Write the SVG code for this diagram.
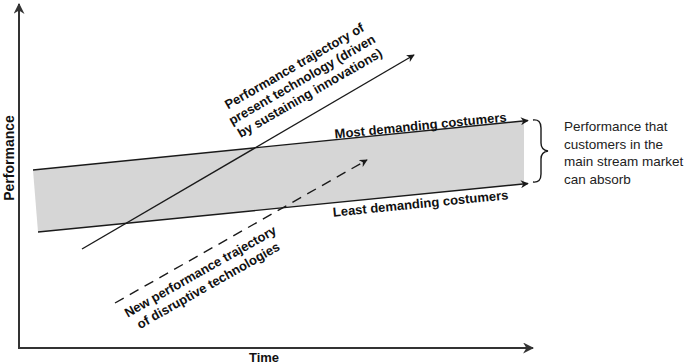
<svg xmlns="http://www.w3.org/2000/svg" width="685" height="364" viewBox="0 0 685 364">
<defs>
<style>
.ln{stroke:#1a1a1a;stroke-width:1.4;fill:none}
.ax{stroke:#333;stroke-width:2;fill:none}
.b{font-family:"Liberation Sans",Arial,sans-serif;font-weight:bold;font-size:13px;fill:#111}
.r{font-family:"Liberation Sans",Arial,sans-serif;font-size:13.5px;fill:#222}
</style>
<marker id="ah" viewBox="0 0 10 10" refX="9" refY="5" markerWidth="8" markerHeight="8" markerUnits="userSpaceOnUse" orient="auto">
<path d="M0,0 L10,5 L0,10 L3,5 Z" fill="#1a1a1a"/>
</marker>
<marker id="ahb" viewBox="0 0 10 10" refX="9" refY="5" markerWidth="11" markerHeight="11" markerUnits="userSpaceOnUse" orient="auto">
<path d="M0,0 L10,5 L0,10 L3,5 Z" fill="#333"/>
</marker>
</defs>
<rect width="685" height="364" fill="#fff"/>
<g id="band">
<polygon points="33,170 524,121 524,184 38,232" fill="#d6d6d6"/>
</g>
<g id="connectors">
<line class="ax" x1="19" y1="349" x2="19" y2="4" marker-end="url(#ahb)"/>
<line class="ax" x1="18" y1="348" x2="533" y2="348" marker-end="url(#ahb)"/>
<line class="ln" x1="33" y1="170" x2="528" y2="120.5" marker-end="url(#ah)"/>
<line class="ln" x1="38" y1="232" x2="528" y2="183.5" marker-end="url(#ah)"/>
<line class="ln" x1="82" y1="249" x2="414" y2="55" marker-end="url(#ah)"/>
<line class="ln" x1="115" y1="303" x2="367" y2="160" stroke-dasharray="10,7" marker-end="url(#ah)"/>
<path class="ln" d="M533,120 Q541,119 541,128 L541,143 Q541,150 548,151 Q541,152 541,159 L541,174 Q541,183 533,182"/>
</g>
<g id="axis-labels">
<text class="b" style="font-size:14px" transform="translate(14,158) rotate(-90)" text-anchor="middle">Performance</text>
<text class="b" x="264" y="362" text-anchor="middle">Time</text>
</g>
<g id="sustaining-label">
<g transform="translate(304,83) rotate(-30)">
<text class="b" x="0" y="-15" text-anchor="middle">Performance trajectory of</text>
<text class="b" x="0" y="0.5" text-anchor="middle">present technology (driven</text>
<text class="b" x="0" y="16" text-anchor="middle">by sustaining innovations)</text>
</g>
</g>
<g id="disruptive-label">
<g transform="translate(204,278) rotate(-29.5)">
<text class="b" x="0" y="-3" text-anchor="middle">New performance trajectory</text>
<text class="b" x="0" y="13" text-anchor="middle">of disruptive technologies</text>
</g>
</g>
<g id="most-label">
<text class="b" transform="translate(421,130) rotate(-5.7)" text-anchor="middle">Most demanding costumers</text>
</g>
<g id="least-label">
<text class="b" transform="translate(421,208) rotate(-5.7)" text-anchor="middle">Least demanding costumers</text>
</g>
<g id="absorb-label">
<text class="r" x="564" y="131">Performance that</text>
<text class="r" x="564" y="148.5">customers in the</text>
<text class="r" x="564" y="166">main stream market</text>
<text class="r" x="564" y="183.5">can absorb</text>
</g>
</svg>
